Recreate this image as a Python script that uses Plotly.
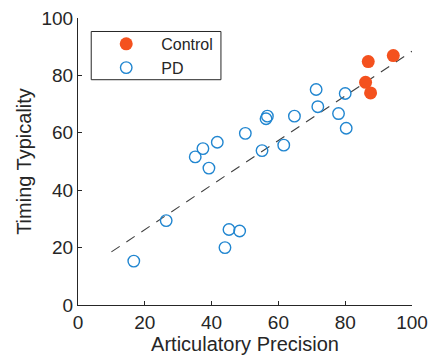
import plotly.graph_objects as go

# Data
control_x = [94.4, 86.9, 86.1, 87.6]
control_y = [86.9, 84.8, 77.6, 73.9]

pd_x = [16.7, 26.4, 35.1, 37.4, 39.2, 41.7, 44.0, 45.2, 48.4, 50.1,
        55.1, 56.3, 56.7, 61.6, 64.8, 71.3, 71.8, 78.0, 80.0, 80.3]
pd_y = [15.3, 29.4, 51.6, 54.5, 47.7, 56.7, 20.0, 26.3, 25.8, 59.8,
        53.8, 64.9, 65.8, 55.7, 65.8, 75.1, 69.1, 66.7, 73.7, 61.6]

fit_x = [10, 100]
fit_y = [18.5, 88.4]

tick_vals = [0, 20, 40, 60, 80, 100]

FONT = "Liberation Sans, Arial, sans-serif"
TXT = "#262626"

fig = go.Figure()
fig.add_trace(go.Scatter(
    x=fit_x, y=fit_y, mode="lines", showlegend=False,
    line=dict(color="#404040", width=1.1, dash="10px,8px"),
    hoverinfo="skip"))
fig.add_trace(go.Scatter(
    x=control_x, y=control_y, mode="markers", name="Control",
    marker=dict(symbol="circle", size=13, color="#F4511E",
                line=dict(width=0))))
fig.add_trace(go.Scatter(
    x=pd_x, y=pd_y, mode="markers", name="PD",
    marker=dict(symbol="circle-open", size=11.5, color="#2186D0",
                line=dict(width=1.4, color="#2186D0"))))

axis_common = dict(
    range=[0, 100], tickvals=tick_vals, ticks="inside", ticklen=4,
    tickcolor=TXT, showline=True, linecolor=TXT, linewidth=1,
    showgrid=False, zeroline=False, mirror=False, automargin=False,
    tickfont=dict(family=FONT, size=19, color=TXT),
)

fig.update_layout(
    width=428, height=356,
    margin=dict(l=78, r=16, t=18, b=51, autoexpand=False),
    paper_bgcolor="white", plot_bgcolor="white",
    font=dict(family=FONT, color=TXT),
    xaxis=dict(**axis_common,
               title=dict(text="Articulatory Precision",
                          font=dict(family=FONT, size=20, color=TXT),
                          standoff=0)),
    yaxis=dict(**axis_common,
               title=dict(text="Timing Typicality",
                          font=dict(family=FONT, size=20, color=TXT),
                          standoff=4)),
    legend=dict(
        x=0.0396, y=0.969, xanchor="left", yanchor="top",
        borderwidth=0, bgcolor="rgba(0,0,0,0)",
        font=dict(family=FONT, size=16, color=TXT),
        itemwidth=60, tracegroupgap=0,
    ),
    shapes=[dict(type="rect", xref="paper", yref="paper",
                 x0=0.0396, x1=0.428, y0=0.785, y1=0.953,
                 line=dict(color="#262626", width=1),
                 fillcolor="white", layer="above")],
)

fig.write_html("out.html",
               config={"displayModeBar": False},
               post_script="document.body.style.margin='0';document.body.style.padding='0';")
